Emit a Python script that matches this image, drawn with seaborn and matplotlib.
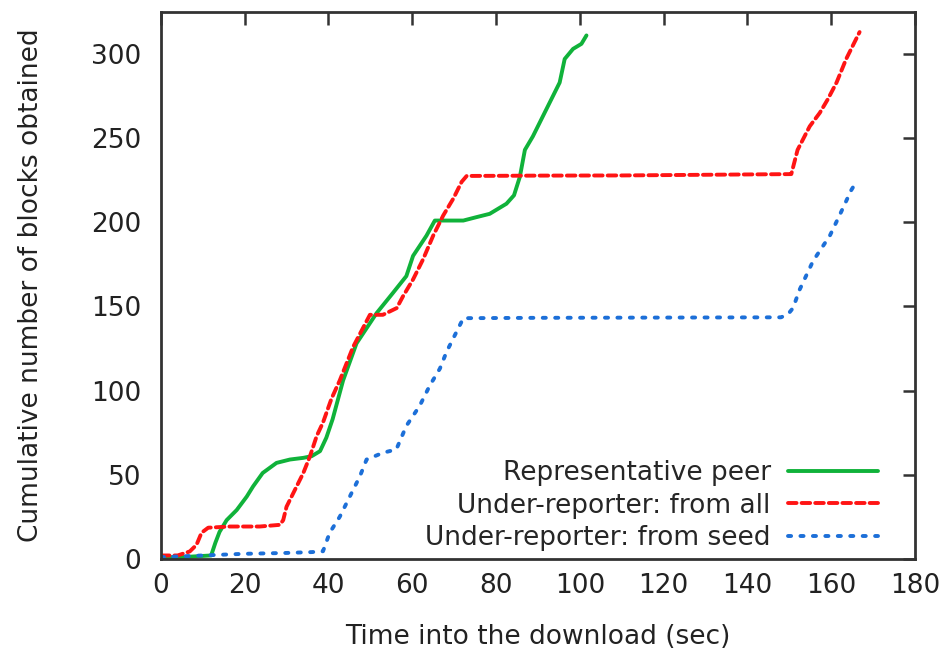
import numpy as np
import pandas as pd
import matplotlib
matplotlib.use("Agg")
import matplotlib.pyplot as plt
import seaborn as sns

# series (time in sec, cumulative blocks)
peer_t = [0, 5, 12, 13, 14, 15.7, 18.1, 20.5, 22, 24.3, 27.6, 30.8, 34, 36, 38, 39.5,
          41, 43.5, 46.7, 51.5, 55.4, 58.6, 60.2, 63.4, 65.4, 69, 72.2, 75.3, 78.5,
          82.5, 84.3, 85.7, 86.9, 88.8, 92, 95.2, 96.4, 98.4, 100.4, 101.6]
peer_b = [1, 1, 2, 9.5, 16, 23, 29, 37, 43, 51, 57, 59, 60, 61, 64, 72,
          83, 106, 128, 146, 158, 168, 180, 192, 201, 201, 201, 203, 205,
          211, 216, 227, 243, 251, 267, 283, 297, 303, 306, 311]

all_t = [0, 4, 6.9, 8.5, 9.7, 11.3, 16.5, 23.6, 28.4, 29.2, 30, 31.6, 34, 35.6,
         37.2, 38.7, 40.7, 42.7, 45.9, 49.9, 53, 56.3, 57.8, 60.2, 62.6, 65,
         67.4, 69.8, 71.8, 73, 90, 110, 130, 150.5, 152, 154.9, 157.3, 159.2,
         161.3, 163.6, 165.6, 166.8]
all_b = [2, 2, 4.4, 8.3, 15.5, 18.5, 19.2, 19.2, 20.2, 23, 31, 39, 51, 61,
         73, 81, 95, 106, 126, 145, 145, 149, 156, 166, 178, 192,
         204, 214, 224, 227.5, 227.7, 227.8, 228.2, 228.6, 243, 257, 265, 273,
         283, 297, 307, 313]

seed_t = [0, 10, 20, 30, 36, 38.7, 40.3, 42.7, 45.1, 47.5, 49.1, 53, 56.2, 58.6,
          61.8, 64.2, 66.6, 68.2, 70.6, 72.2, 90, 110, 130, 148, 149.6, 150.9,
          152.5, 155.7, 159.7, 162, 164.8, 166]
seed_b = [1, 2, 3, 3.5, 4, 4.5, 15.5, 25, 37, 49, 59, 63, 65, 79,
          91, 103, 113, 123, 135, 143, 143.2, 143.3, 143.4, 143.5, 145, 149,
          160, 177, 192, 204, 219, 224]

labels = ["Representative peer", "Under-reporter: from all", "Under-reporter: from seed"]
colors = ["#10b23a", "#ff1414", "#1c6fd8"]
dashes = ["", (2.2, 1.3), (0.8, 2.4)]

df = pd.concat([
    pd.DataFrame({"t": peer_t, "blocks": peer_b, "series": labels[0]}),
    pd.DataFrame({"t": all_t, "blocks": all_b, "series": labels[1]}),
    pd.DataFrame({"t": seed_t, "blocks": seed_b, "series": labels[2]}),
])

sns.set_style("white")
plt.rcParams["font.family"] = ["DejaVu Sans"]

fig = plt.figure(figsize=(9.52, 6.59), dpi=100)
ax = fig.add_axes([0.169, 0.152, 0.792, 0.830])

sns.lineplot(data=df, x="t", y="blocks", hue="series", style="series",
             palette=dict(zip(labels, colors)), dashes=dict(zip(labels, dashes)),
             estimator=None, sort=False, linewidth=2.8, legend=False, ax=ax)
for ln in ax.get_lines():
    ln.set_dash_capstyle("round")

ax.set_xlim(0, 180)
ax.set_ylim(0, 325)
ax.set_xticks(np.arange(0, 181, 20))
ax.set_yticks(np.arange(0, 301, 50))
ax.tick_params(direction="in", length=9, width=1.8, color="#333333",
               top=True, right=True, labelsize=19, colors="#222222", pad=10)
ax.tick_params(axis="y", pad=14)
for sp in ax.spines.values():
    sp.set_linewidth(2.0)
    sp.set_color("#333333")
    sp.set_visible(True)

ax.set_xlabel("Time into the download (sec)", fontsize=19, color="#222222", labelpad=18)
ax.set_ylabel("Cumulative number of blocks obtained", fontsize=19, color="#222222", labelpad=34)

handles = ax.get_lines()[:3]
ax.legend(handles, labels, loc="lower right", bbox_to_anchor=(0.975, -0.02),
          frameon=False, markerfirst=False, fontsize=19, handlelength=3.4,
          handletextpad=0.65, labelspacing=0.25, borderaxespad=0.3)

fig.savefig("out.png", dpi=100)
